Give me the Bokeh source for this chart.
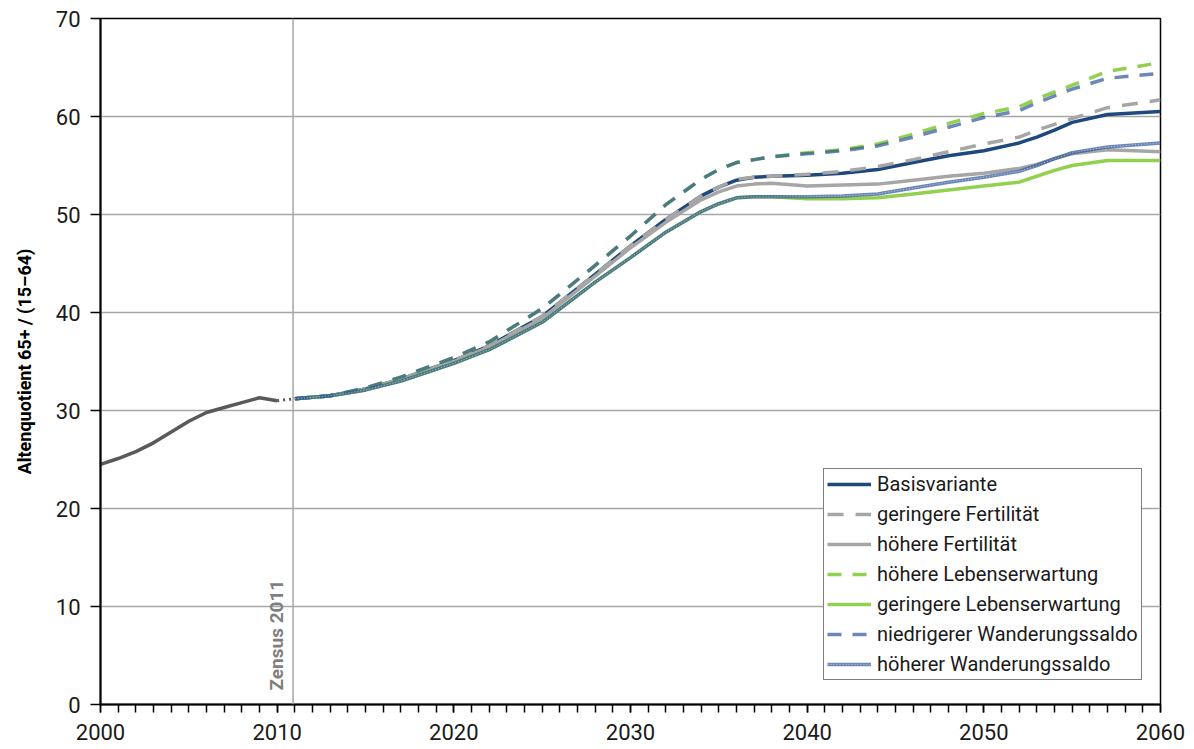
from bokeh.plotting import figure
from bokeh.models import (Range1d, FixedTicker, Span, Label, Legend, LegendItem)
from bokeh.embed import file_html
from bokeh.resources import INLINE

# ---------------- data ----------------
hist_years = [2000, 2001, 2002, 2003, 2004, 2005, 2006, 2007, 2008, 2009, 2010]
hist_vals = [24.5, 25.1, 25.8, 26.7, 27.8, 28.9, 29.8, 30.3, 30.8, 31.3, 31.0]

zensus_year = 2011

years = [2011, 2013, 2015, 2017, 2020, 2022, 2025, 2028, 2030, 2032, 2034, 2035,
         2036, 2037, 2038, 2040, 2042, 2044, 2046, 2048, 2050, 2052, 2053, 2054,
         2055, 2057, 2060]

basis = [31.2, 31.5, 32.2, 33.2, 35.1, 36.6, 39.6, 43.9, 46.8, 49.5, 51.9, 52.8,
         53.5, 53.8, 53.9, 54.0, 54.2, 54.6, 55.3, 56.0, 56.5, 57.3, 57.9, 58.6,
         59.4, 60.2, 60.5]
ger_fert = [31.2, 31.5, 32.2, 33.2, 35.1, 36.6, 39.6, 43.9, 46.8, 49.5, 51.9, 52.8,
            53.6, 53.8, 53.9, 54.1, 54.4, 54.9, 55.6, 56.4, 57.2, 57.9, 58.6, 59.2,
            59.8, 60.9, 61.7]
hoe_fert = [31.2, 31.5, 32.1, 33.1, 35.0, 36.5, 39.4, 43.7, 46.6, 49.2, 51.5, 52.3,
            52.9, 53.1, 53.2, 52.9, 53.0, 53.1, 53.5, 53.9, 54.2, 54.7, 55.1, 55.7,
            56.2, 56.6, 56.4]
hoe_le = [31.2, 31.5, 32.3, 33.4, 35.4, 37.0, 40.4, 44.8, 47.8, 51.0, 53.6, 54.6,
          55.3, 55.6, 55.9, 56.3, 56.6, 57.2, 58.2, 59.3, 60.3, 61.0, 61.8, 62.5,
          63.2, 64.6, 65.5]
ger_le = [31.2, 31.5, 32.1, 33.0, 34.8, 36.2, 39.0, 43.1, 45.6, 48.2, 50.3, 51.1,
          51.7, 51.8, 51.8, 51.6, 51.6, 51.7, 52.1, 52.5, 52.9, 53.3, 53.9, 54.5,
          55.0, 55.5, 55.5]
nied_ws = [31.2, 31.5, 32.3, 33.4, 35.4, 37.0, 40.4, 44.8, 47.8, 51.0, 53.6, 54.6,
           55.3, 55.6, 55.9, 56.2, 56.5, 57.0, 57.9, 58.9, 59.9, 60.6, 61.4, 62.1,
           62.8, 63.9, 64.4]
hoe_ws = [31.2, 31.5, 32.1, 33.0, 34.8, 36.2, 39.0, 43.1, 45.6, 48.2, 50.3, 51.1,
          51.7, 51.8, 51.8, 51.8, 51.9, 52.1, 52.7, 53.3, 53.8, 54.4, 55.0, 55.7,
          56.3, 56.9, 57.3]

x_ticks = list(range(2000, 2061, 10))
x_minor = list(range(2000, 2061))
y_ticks = list(range(0, 71, 10))

labels = ["Basisvariante", "geringere Fertilität", "höhere Fertilität",
          "höhere Lebenserwartung", "geringere Lebenserwartung",
          "niedrigerer Wanderungssaldo", "höherer Wanderungssaldo"]

FONT = "Roboto"

p = figure(width=1194, height=749, output_backend="svg", toolbar_location=None,
           x_range=Range1d(2000, 2060), y_range=Range1d(0, 70),
           min_border_left=100, min_border_right=34, min_border_top=18,
           min_border_bottom=45)
p.background_fill_color = "white"
p.border_fill_color = "white"
p.outline_line_color = "black"
p.outline_line_width = 1.5

# axes
p.xaxis.ticker = FixedTicker(ticks=x_ticks, minor_ticks=x_minor)
p.yaxis.ticker = FixedTicker(ticks=y_ticks, minor_ticks=[])
for ax in (p.xaxis, p.yaxis):
    ax.axis_line_color = "black"
    ax.axis_line_width = 2
    ax.major_tick_line_color = "black"
    ax.major_tick_line_width = 1.5
    ax.major_tick_in = 0
    ax.major_label_text_font = FONT
    ax.major_label_text_font_size = "22px"
    ax.major_label_text_color = "#1a1a1a"
p.xaxis.major_tick_out = 8
p.xaxis.minor_tick_out = 8
p.xaxis.minor_tick_in = 0
p.xaxis.minor_tick_line_color = "black"
p.xaxis.minor_tick_line_width = 1.5
p.xaxis.major_label_standoff = 11
p.yaxis.major_tick_out = 10
p.yaxis.minor_tick_line_color = None
p.yaxis.major_label_standoff = 10
p.yaxis.axis_label = "Altenquotient 65+ / (15–64)"
p.yaxis.axis_label_text_font = FONT
p.yaxis.axis_label_text_font_style = "bold"
p.yaxis.axis_label_text_font_size = "18px"
p.yaxis.axis_label_text_color = "black"
p.yaxis.axis_label_standoff = 18

p.xgrid.visible = False
p.ygrid.grid_line_color = "#a6a6a6"
p.ygrid.grid_line_width = 1.5

# Zensus marker
p.add_layout(Span(location=zensus_year - 0.1, dimension="height",
                  line_color="#a6a6a6", line_width=1.5))
p.add_layout(Label(x=zensus_year - 0.1, y=0, x_offset=-5, y_offset=14,
                   text="Zensus 2011", angle=1.5707963,
                   text_align="left", text_baseline="bottom",
                   text_font=FONT, text_font_size="19px",
                   text_font_style="bold", text_color="#7f7f7f"))

# historical
p.line(hist_years, hist_vals, line_color="#595959", line_width=3.5)
p.line([hist_years[-1], years[0]], [hist_vals[-1], basis[0]],
       line_color="#595959", line_width=3, line_dash="2 4")

W = 3.5
r_basis = p.line(years, basis, line_color="#1f497d", line_width=W)
r_gf = p.line(years, ger_fert, line_color="#a6a6a6", line_width=W, line_dash="16 12")
r_hf = p.line(years, hoe_fert, line_color="#a6a6a6", line_width=W)
r_hle = p.line(years, hoe_le, line_color="#92d050", line_width=W, line_dash="14 11")
r_gle = p.line(years, ger_le, line_color="#92d050", line_width=W)
r_nws = p.line(years, nied_ws, line_color="#2f5597", line_alpha=0.7,
               line_width=W, line_dash="14 11")
r_hws = p.line(years, hoe_ws, line_color="#2f5597", line_alpha=0.7, line_width=W)
r_hws2 = p.line(years, hoe_ws, line_color="#c9d6ec", line_alpha=0.8,
                line_width=1, line_dash="1 2")

items = [LegendItem(label=labels[0], renderers=[r_basis]),
         LegendItem(label=labels[1], renderers=[r_gf]),
         LegendItem(label=labels[2], renderers=[r_hf]),
         LegendItem(label=labels[3], renderers=[r_hle]),
         LegendItem(label=labels[4], renderers=[r_gle]),
         LegendItem(label=labels[5], renderers=[r_nws]),
         LegendItem(label=labels[6], renderers=[r_hws, r_hws2])]

legend = Legend(items=items, location=(723, 24), margin=0, padding=3,
                spacing=6, label_height=24, glyph_height=24, glyph_width=44,
                label_standoff=6, label_text_font=FONT,
                label_text_font_size="20px", label_text_color="#1a1a1a",
                border_line_color="black", border_line_width=1,
                background_fill_color="white", background_fill_alpha=1.0)
p.add_layout(legend)

open("out.html", "w").write(file_html(p, INLINE))
